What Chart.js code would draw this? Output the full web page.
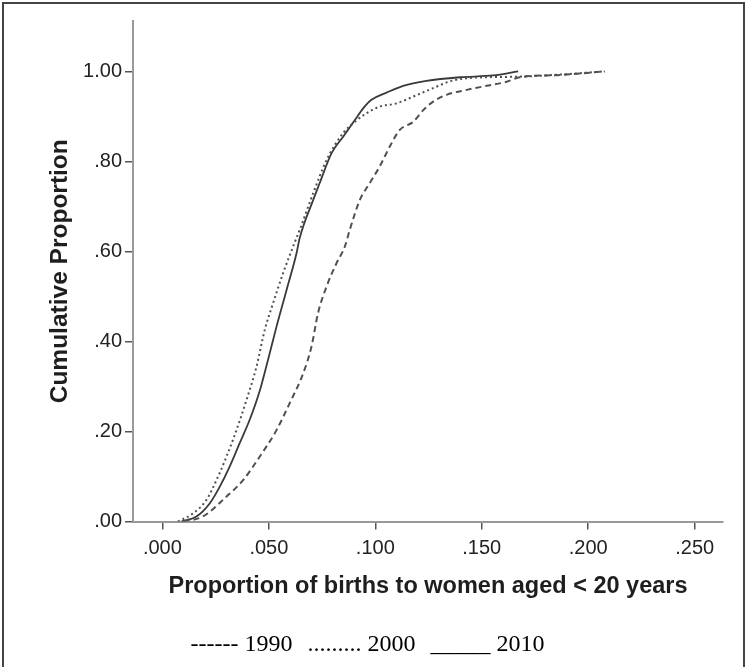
<!DOCTYPE html>
<html>
<head>
<meta charset="utf-8">
<script src="https://cdn.jsdelivr.net/npm/chart.js@4"></script>
<style>
  body { margin: 0; background: #fff; }
  #wrap { position: relative; width: 747px; height: 667px; }
</style>
</head>
<body>
<div id="wrap"><canvas id="chart"></canvas></div>
<script>
'use strict'

// cumulative proportion curves
const years = ['1990', '2000', '2010']
const legendMarks = ['------', '.........', '_____']

const x1990 = [0.010, 0.019, 0.030, 0.0379, 0.0457, 0.0536, 0.0598, 0.0661, 0.070, 0.0731, 0.0771, 0.0818, 0.0857, 0.088, 0.0927, 0.0974, 0.1021, 0.1068, 0.1115, 0.1178, 0.1225, 0.1272, 0.1335, 0.1429, 0.1523, 0.1617, 0.1679, 0.1867, 0.2078]
const y1990 = [0, 0.011, 0.055, 0.092, 0.144, 0.203, 0.263, 0.329, 0.388, 0.463, 0.522, 0.574, 0.611, 0.648, 0.714, 0.752, 0.789, 0.833, 0.870, 0.888, 0.914, 0.933, 0.948, 0.959, 0.968, 0.977, 0.987, 0.992, 1.0]

const x2000 = [0.0073, 0.0144, 0.0207, 0.0254, 0.0301, 0.0348, 0.0395, 0.0442, 0.0481, 0.052, 0.0567, 0.0614, 0.0645, 0.0708, 0.0771, 0.0849, 0.0904, 0.0959, 0.1021, 0.110, 0.1178, 0.1272, 0.1366, 0.1507, 0.1648, 0.1867, 0.207]
const y2000 = [0, 0.018, 0.048, 0.092, 0.144, 0.203, 0.270, 0.344, 0.426, 0.485, 0.552, 0.611, 0.648, 0.729, 0.803, 0.863, 0.888, 0.907, 0.922, 0.929, 0.944, 0.963, 0.980, 0.987, 0.988, 0.993, 1.0]

const x2010 = [0.0089, 0.016, 0.0222, 0.0269, 0.0316, 0.0363, 0.041, 0.0457, 0.0496, 0.0536, 0.0583, 0.063, 0.0645, 0.0708, 0.0739, 0.0794, 0.0849, 0.0904, 0.0943, 0.0982, 0.1053, 0.1131, 0.124, 0.1397, 0.1554, 0.1671]
const y2010 = [0, 0.011, 0.040, 0.077, 0.122, 0.174, 0.226, 0.290, 0.359, 0.433, 0.514, 0.596, 0.630, 0.714, 0.752, 0.818, 0.855, 0.892, 0.918, 0.937, 0.953, 0.968, 0.979, 0.987, 0.991, 1.0]

const xTitle = 'Proportion of births to women aged < 20 years'
const yTitle = 'Cumulative Proportion'

const pts = (xs, ys) => xs.map((x, i) => ({ x: x, y: ys[i] }))

Chart.defaults.font.family = '"Liberation Sans", Arial, sans-serif'
Chart.defaults.color = '#222'

const frame = {
  id: 'frame',
  beforeDraw(chart) {
    const c = chart.ctx
    c.save()
    c.strokeStyle = '#444'
    c.lineWidth = 2
    c.strokeRect(3, 3, 741, 700)
    c.restore()
  },
}

const ctx = document.getElementById('chart').getContext('2d')

const data = {
  datasets: [
    {
      label: years[0],
      data: pts(x1990, y1990),
      borderColor: '#505050',
      borderWidth: 2,
      borderDash: [6, 4],
    },
    {
      label: years[1],
      data: pts(x2000, y2000),
      borderColor: '#505050',
      borderWidth: 2,
      borderDash: [2, 3],
    },
    {
      label: years[2],
      data: pts(x2010, y2010),
      borderColor: '#3a3a3a',
      borderWidth: 1.8,
    },
  ],
}

const config = {
  type: 'scatter',
  data: data,
  options: {
    responsive: true,
    maintainAspectRatio: false,
    animation: false,
    showLine: true,
    elements: {
      point: { radius: 0 },
      line: { cubicInterpolationMode: 'monotone' },
    },
    layout: { padding: { top: 21, right: 24, left: 0, bottom: 0 } },
    scales: {
      x: {
        type: 'linear',
        min: -0.0138,
        max: 0.2633,
        afterFit(s) {
          const lg = s.chart.legend
          s.height = s.chart.height - 521.5 - (lg ? lg.height : 0)
        },
        grid: { drawOnChartArea: false, tickLength: 8, color: '#555', lineWidth: 1.5 },
        border: { color: '#999', width: 2 },
        ticks: {
          stepSize: 0.05,
          includeBounds: false,
          padding: 7,
          maxRotation: 0,
          font: { size: 20 },
          color: '#222',
          callback: (v) => v.toFixed(3).replace(/^0/, ''),
        },
        title: {
          display: true,
          text: xTitle,
          color: '#1e1e1e',
          font: { size: 23.5, weight: 'bold' },
          padding: { top: 0, bottom: 29 },
        },
      },
      y: {
        type: 'linear',
        min: 0,
        max: 1.112,
        afterFit(s) {
          s.width = 133
        },
        grid: { drawOnChartArea: false, tickLength: 8, color: '#555', lineWidth: 1.5 },
        border: { color: '#999', width: 2 },
        ticks: {
          stepSize: 0.2,
          includeBounds: false,
          padding: 3,
          font: { size: 20 },
          color: '#222',
          callback: (v) => v.toFixed(2).replace(/^0/, ''),
        },
        title: {
          display: true,
          text: yTitle,
          color: '#1e1e1e',
          font: { size: 24.5, weight: 'bold' },
          padding: { top: 46, bottom: 0 },
        },
      },
    },
    plugins: {
      tooltip: { enabled: false },
      legend: {
        display: true,
        position: 'bottom',
        labels: {
          boxWidth: 0,
          boxHeight: 0,
          padding: 3,
          color: '#444',
          font: { family: '"Liberation Serif", "Times New Roman", serif', size: 24 },
          generateLabels: (chart) =>
            chart.data.datasets.map((ds, i) => ({
              text: legendMarks[i] + ' ' + ds.label,
              fillStyle: 'transparent',
              strokeStyle: 'transparent',
              lineWidth: 0,
              datasetIndex: i,
            })),
        },
      },
    },
  },
  plugins: [frame],
}

const chart = new Chart(ctx, config)
</script>
</body>
</html>
